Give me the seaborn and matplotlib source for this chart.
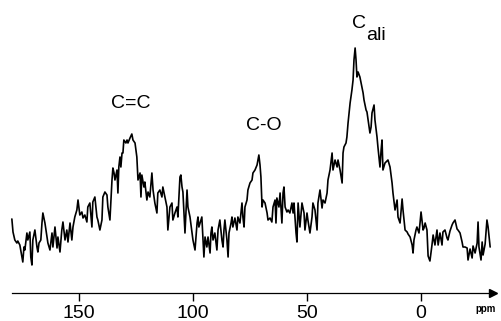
import matplotlib
matplotlib.use("Agg")
import matplotlib.pyplot as plt
import seaborn as sns
import pandas as pd

# Chemical shift (ppm) and intensity (arbitrary units)
ppm = [179.4, 178.9, 178.1, 177.2, 176.8, 175.9, 175.0, 174.6, 174.1, 173.7, 172.8, 172.4, 171.5, 171.1, 170.6,
       170.2, 169.3, 168.4, 168.0, 167.5, 166.7, 166.2, 165.8, 164.9, 164.0, 163.6, 162.7, 161.8, 161.4, 160.5,
       159.6, 159.2, 158.3, 157.5, 157.0, 156.1, 155.3, 154.8, 153.9, 153.1, 152.6, 151.8, 150.9, 150.4, 149.6,
       148.7, 148.2, 147.4, 146.5, 146.1, 145.2, 144.3, 143.9, 143.0,
       142.1, 141.7, 140.8, 139.9, 139.5, 138.6, 137.7, 137.3, 136.4, 135.5, 135.1, 134.6, 134.2, 133.3, 132.9,
       132.5, 132.0, 131.6, 131.1, 130.7, 130.3, 129.4, 128.9, 128.5, 127.6, 126.8, 126.3, 125.4, 124.6, 124.1,
       123.2, 122.8, 122.4, 121.5, 121.1, 120.2, 119.7, 118.9, 118.0, 117.5, 116.7, 115.8, 115.4, 114.5, 113.6,
       113.2, 112.3, 111.4, 111.0, 110.1, 109.2, 108.8, 107.9, 107.0, 106.6, 105.7, 105.3, 104.8, 104.4, 103.5,
       102.6, 102.2, 101.3, 100.4, 100.0,
       99.1, 98.2, 97.8, 97.4, 96.5, 96.1, 95.6, 95.2, 94.7, 93.9, 93.4, 92.5, 92.1, 91.7, 91.2, 90.4, 89.5, 89.0,
       88.2, 87.3, 86.8, 86.4, 86.0, 85.1, 84.6, 84.2, 83.3, 82.9, 82.5, 81.6, 80.7, 80.3, 79.4, 78.5, 78.1, 77.6,
       77.2, 76.3, 75.9, 75.0, 74.1, 73.7, 72.8, 71.9, 71.5, 71.1, 70.6, 70.2, 69.7, 69.3, 68.4, 67.5, 67.1, 66.2,
       65.4, 64.9, 64.0, 63.6, 63.2, 62.3, 61.8, 61.0, 60.5, 60.1, 59.6, 58.8,
       58.3, 57.5, 56.6, 56.1, 55.7, 54.8, 54.4, 53.9, 53.1, 52.6, 52.2, 51.3, 50.9, 50.0, 49.6, 48.7, 47.8, 47.4,
       46.5, 45.6, 45.2, 44.3, 43.4, 43.0, 42.1, 41.2, 40.8, 39.9, 39.0, 38.6, 37.7, 36.8, 36.4, 35.5, 34.6, 34.2,
       33.8, 32.9, 32.5, 32.0, 31.1, 30.3, 29.8, 29.4, 28.9, 28.5, 28.1, 27.6, 26.8, 25.9, 25.4, 25.0, 24.1, 23.7,
       23.2, 22.4, 21.9, 21.5, 20.6, 20.2, 19.3, 18.9, 18.0, 17.5, 17.1, 16.7,
       15.8, 14.5, 13.6, 12.7, 12.3, 11.4, 10.5, 10.1, 9.2, 8.3, 7.9, 7.0, 6.1, 5.7, 4.8, 3.9, 3.5, 3.1, 2.2, 1.8,
       0.9, 0.4, 0.0, -0.9, -1.3, -1.8, -2.6, -3.1, -3.9, -4.8, -5.3, -6.1, -7.0, -7.5, -8.3, -9.2, -9.6, -10.5,
       -11.4, -11.8, -12.7, -13.6, -14.0, -14.9, -15.8, -16.2, -17.1, -18.0, -18.4, -19.3, -20.2, -20.6, -21.5,
       -22.4, -22.8, -23.7, -24.6, -25.0, -25.4, -26.3, -26.8, -27.2, -28.1, -28.9, -29.4, -30.3]

intensity = [51, 38, 30, 27, 29, 25, 13, 8, 23, 20, 37, 30, 38, 13, 5, 30, 40, 23, 18, 27, 30, 47, 57, 47, 33, 27,
             20, 37, 23, 43, 22, 33, 18, 40, 48, 30, 40, 28, 47, 30, 43, 53, 60, 70, 55, 58, 52, 55, 48, 63, 67,
             43, 68, 73,
             53, 50, 40, 50, 73, 78, 75, 63, 50, 90, 102, 97, 90, 100, 77, 103, 113, 103, 117, 117, 130, 127, 130,
             127, 132, 136, 130, 127, 113, 90, 97, 73, 95, 83, 88, 70, 78, 73, 97, 80, 67, 57, 77, 80, 73, 83, 73,
             63, 40, 63, 67, 50, 57, 63, 53, 93, 95, 83, 78, 37, 80, 63, 53, 37, 30,
             20, 47, 53, 43, 50, 53, 30, 13, 33, 23, 33, 17, 37, 43, 30, 37, 20, 40, 50, 30, 23, 40, 50, 30, 13, 37,
             47, 53, 43, 52, 40, 53, 47, 67, 53, 43, 63, 70, 80, 87, 90, 97, 100, 105, 110, 115, 105, 93, 63, 70,
             67, 57, 50, 52, 48, 63, 70, 47, 72, 63, 77, 47, 77, 83, 63, 58,
             60, 57, 67, 57, 67, 37, 28, 67, 43, 57, 67, 57, 40, 57, 50, 37, 53, 67, 60, 40, 67, 80, 62, 70, 67, 77,
             90, 100, 117, 100, 110, 103, 110, 100, 87, 117, 123, 127, 133, 147, 167, 180, 190, 210, 222, 210, 193,
             198, 193, 183, 177, 170, 160, 158, 150, 137, 143, 157, 165, 150, 133, 123, 103, 120, 130, 100,
             107, 110, 103, 87, 77, 60, 70, 53, 47, 71, 60, 40, 38, 36, 33, 25, 17, 30, 40, 43, 37, 48, 58, 40, 42,
             47, 40, 14, 9, 25, 35, 25, 40, 25, 37, 25, 38, 40, 32, 30, 39, 45, 47, 50, 41, 40, 37, 28, 23, 23, 22,
             10, 21, 12, 24, 17, 27, 48, 23, 10, 28, 15, 26, 50, 43, 23]

peak_labels = ["C=C", "C-O"]
peak_ppm = [127.2, 68.9]
peak_height = [162, 140]
ali_ppm = 27.2
ali_height = 242

tick_values = [150, 100, 50, 0]

df = pd.DataFrame({"ppm": ppm, "intensity": intensity})

sns.set_theme(style="white")
plt.rcParams["font.family"] = ["Liberation Sans", "DejaVu Sans"]
plt.rcParams["text.color"] = "black"

fig = plt.figure(figsize=(5.02, 3.21), dpi=100)
ax = fig.add_axes([0, 0, 1, 1])
ax.set_facecolor("white")

sns.lineplot(data=df, x="ppm", y="intensity", sort=False, estimator=None,
             color="black", linewidth=1.2, ax=ax)

ax.set_xlim(184.6, -35.5)
ax.set_ylim(-51, 270)

# axis
for s in ["left", "top", "right"]:
    ax.spines[s].set_visible(False)
ax.spines["bottom"].set_position(("data", -23))
ax.spines["bottom"].set_bounds(-31, 179.4)
ax.spines["bottom"].set_color("black")
ax.spines["bottom"].set_linewidth(0.9)
ax.plot([-31.5], [-23], marker=">", color="black", markersize=6, clip_on=False)

ax.set_yticks([])
ax.set_xticks(tick_values)
ax.set_xticklabels([str(v) for v in tick_values])
ax.tick_params(axis="x", direction="out", length=6, width=1.0, color="black",
               labelsize=14, pad=3, labelcolor="black", bottom=True)
ax.set_xlabel("")
ax.set_ylabel("")

ax.text(-28.1, -39, "ppm", fontsize=7, fontweight="bold", ha="center", va="center", color="black")

for lab, xp, yp in zip(peak_labels, peak_ppm, peak_height):
    ax.text(xp, yp, lab, fontsize=14, ha="center", va="baseline", color="black")
ax.text(ali_ppm, ali_height, "C", fontsize=14, ha="center", va="baseline", color="black")
ax.text(ali_ppm - 3.0, ali_height - 12, "ali", fontsize=14, ha="left", va="baseline", color="black")

fig.savefig("out.png", dpi=100, facecolor="white")
